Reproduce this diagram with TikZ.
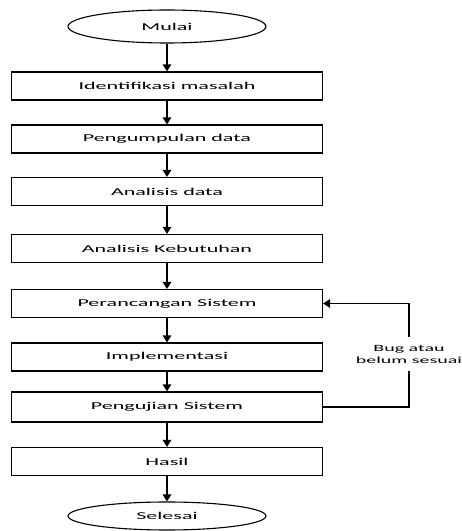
\documentclass[tikz,border=0pt]{standalone}
\usepackage{fontspec}
\setmainfont[FakeStretch=2.1]{Carlito}
\usepackage{tikz}
\usetikzlibrary{shapes, arrows, positioning}
\usetikzlibrary{arrows.meta, shapes.geometric}

\begin{document}
\begin{tikzpicture}[>={Triangle[length=7pt, width=8.5pt]}, x=1pt, y=1pt,
    proses/.style={draw, line width=1.1pt, minimum width=311pt, minimum height=28pt,
        inner sep=0pt, font=\fontsize{10.5}{12}\selectfont},
    terminal/.style={draw, ellipse, line width=1.1pt, minimum width=198pt, minimum height=33pt,
        inner sep=0pt, font=\fontsize{10.5}{12}\selectfont},
    panah/.style={->, line width=1.2pt}]
    \useasboundingbox (0,0) rectangle (462,531);

    % Terminal awal dan akhir
    \node[terminal] (mulai) at (167,504.5) {Mulai};
    \node[terminal, minimum height=28pt] (selesai) at (167,15) {Selesai};

    % Tahapan penelitian
    \node[proses] (identifikasi) at (167,445) {Identifikasi masalah};
    \node[proses] (pengumpulan) at (167,392) {Pengumpulan data};
    \node[proses] (analisis) at (167,339.5) {Analisis data};
    \node[proses] (kebutuhan) at (167,282.5) {Analisis Kebutuhan};
    \node[proses] (perancangan) at (167,227.5) {Perancangan Sistem};
    \node[proses] (implementasi) at (167,174) {Implementasi};
    \node[proses, minimum height=30pt] (pengujian) at (167,124) {Pengujian Sistem};
    \node[proses] (hasil) at (167,69.5) {Hasil};

    % Keterangan umpan balik
    \node[align=center, inner xsep=0pt, inner ysep=8pt, font=\fontsize{9.5}{12}\selectfont]
        (bug) at (409,177) {Bug atau\\belum sesuai};

    % Alur utama
    \foreach \a/\b in {mulai/identifikasi, identifikasi/pengumpulan, pengumpulan/analisis,
        analisis/kebutuhan, kebutuhan/perancangan, perancangan/implementasi,
        implementasi/pengujian, pengujian/hasil, hasil/selesai}
        \draw[panah] (\a) -- (\b);

    % Alur kembali
    \draw[line width=1.1pt] (pengujian.east) -| (bug.south);
    \draw[panah] (bug.north) |- (perancangan.east);
\end{tikzpicture}
\end{document}
